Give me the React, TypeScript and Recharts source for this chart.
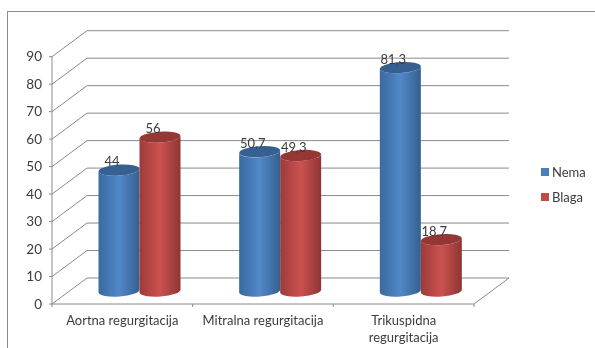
import { BarChart, Bar, XAxis, YAxis, CartesianGrid, Legend, LabelList } from 'recharts';

const categories = ['Aortna regurgitacija', 'Mitralna regurgitacija', 'Trikuspidna regurgitacija'];
const nema = [44, 50.7, 81.3];
const blaga = [56, 49.3, 18.7];
const yTicks = [0, 10, 20, 30, 40, 50, 60, 70, 80, 90];

const data = categories.map((name, i) => ({ name, Nema: nema[i], Blaga: blaga[i] }));

const FONT = 'Lato, "Open Sans", sans-serif';
const AXIS = '#8a8a8a';
const TEXT = '#3c3c3c';
const DEPTH_X = 35;
const DEPTH_Y = 26;
const PLOT_W = 422;

// floor/wall lines: front edge -> back wall -> across
const GridLine = (props: any) => {
	const { x1, x2, y1 } = props;
	const isFloor = Math.abs(y1 - 304) < 1;
	const points = `${x1},${y1} ${x1 + DEPTH_X},${y1 - DEPTH_Y} ${x2 + DEPTH_X},${y1 - DEPTH_Y}`;
	return (
		<g>
			<polyline points={isFloor ? `${points} ${x2},${y1}` : points} fill="none" stroke={AXIS} strokeWidth={1} />
		</g>
	);
};

const Cylinder = (props: any) => {
	const { x, y, width, height, grad, top } = props;
	if (width == null) return null;
	const left = x + DEPTH_X / 2;
	const right = left + width;
	const yTop = y - DEPTH_Y / 2;
	const yBottom = yTop + height;
	const rx = width / 2;
	const ry = 5.5;
	const dy = 1.5;
	const body = `M${left},${yTop + dy} L${left},${yBottom + dy} A${rx},${ry} -4 0 0 ${right},${yBottom - dy} L${right},${yTop - dy} A${rx},${ry} -4 0 1 ${left},${yTop + dy} Z`;
	return (
		<g>
			<path d={body} fill={`url(#${grad})`} />
			<ellipse cx={left + rx} cy={yTop} rx={rx} ry={ry} fill={top} transform={`rotate(-4 ${left + rx} ${yTop})`} />
		</g>
	);
};

const ValueLabel = (props: any) => {
	const { x, y, width, value } = props;
	return (
		<text
			x={x + width / 2 + DEPTH_X / 2 - 7}
			y={y - DEPTH_Y / 2 - 4}
			textAnchor="middle"
			fontSize={13}
			fontFamily={FONT}
			fill={TEXT}
		>
			{String(value).replace('.', ',')}
		</text>
	);
};

const CategoryTick = (props: any) => {
	const { x, y, payload, index } = props;
	const label: string = payload.value;
	const lines = label.length > 22 ? label.split(' ') : [label];
	const band = PLOT_W / categories.length;
	return (
		<g>
			<line x1={x + band / 2} x2={x + band / 2} y1={304} y2={307} stroke={AXIS} />
			{index === 0 && <line x1={x - band / 2} x2={x - band / 2} y1={304} y2={307} stroke={AXIS} />}
			<text textAnchor="middle" fontSize={13} fontFamily={FONT} fill={TEXT}>
				{lines.map((line, i) => (
					<tspan key={line} x={x} y={y + 13 + i * 17}>
						{line}
					</tspan>
				))}
			</text>
		</g>
	);
};

const LegendBox = ({ payload }: any) => (
	<div style={{ fontFamily: FONT, fontSize: 13, color: TEXT }}>
		{(payload || []).map((item: any) => (
			<div key={item.value} style={{ display: 'flex', alignItems: 'center', height: 25 }}>
				<span style={{ width: 8, height: 8, background: item.color, marginRight: 3 }} />
				{item.value}
			</div>
		))}
	</div>
);

const App = () => {
	return (
		<div style={{ position: 'absolute', left: 0, top: 0, width: 595, height: 348, background: '#fff', overflow: 'hidden' }}>
			<div
				style={{
					position: 'absolute',
					left: 7,
					top: 11,
					width: 600,
					height: 350,
					borderLeft: '1px solid #8a8a8a',
					borderTop: '1px solid #8a8a8a',
				}}
			/>
			<div style={{ position: 'absolute', left: 0, top: 0, filter: 'blur(0.4px)' }}>
				<BarChart
					width={595}
					height={348}
					data={data}
					barSize={41}
					barGap={0}
					margin={{ top: 56.7, right: 121, bottom: 14, left: 12 }}
				>
					<defs>
						<linearGradient id="nemaGrad" x1="0" x2="1" y1="0" y2="0">
							<stop offset="0%" stopColor="#3a6a9f" />
							<stop offset="50%" stopColor="#5088c8" />
							<stop offset="100%" stopColor="#35608f" />
						</linearGradient>
						<linearGradient id="blagaGrad" x1="0" x2="1" y1="0" y2="0">
							<stop offset="0%" stopColor="#9c3b39" />
							<stop offset="50%" stopColor="#cc5250" />
							<stop offset="100%" stopColor="#8d3533" />
						</linearGradient>
					</defs>
					<CartesianGrid vertical={false} horizontal={(p: any) => <GridLine key={p.key} {...p} />} />
					<XAxis
						dataKey="name"
						height={30}
						interval={0}
						stroke={AXIS}
						tickLine={false}
						tick={(p: any) => <CategoryTick {...p} />}
					/>
					<YAxis
						width={40}
						domain={[0, 90]}
						ticks={yTicks}
						interval={0}
						stroke={AXIS}
						tickSize={3}
						tickMargin={7}
						tick={{ fontSize: 13.5, fontFamily: FONT, fill: TEXT }}
					/>
					<Legend
						layout="vertical"
						align="center"
						verticalAlign="middle"
						itemSorter={null}
						content={<LegendBox />}
						wrapperStyle={{ position: 'absolute', left: 541, top: 159, width: 54 }}
					/>
					<Bar
						dataKey="Nema"
						fill="#4a7ebb"
						isAnimationActive={false}
						shape={(p: any) => <Cylinder {...p} grad="nemaGrad" top="#376092" />}
					>
						<LabelList dataKey="Nema" content={<ValueLabel />} />
					</Bar>
					<Bar
						dataKey="Blaga"
						fill="#be4b48"
						isAnimationActive={false}
						shape={(p: any) => <Cylinder {...p} grad="blagaGrad" top="#953735" />}
					>
						<LabelList dataKey="Blaga" content={<ValueLabel />} />
					</Bar>
				</BarChart>
			</div>
		</div>
	);
};

export default App;
